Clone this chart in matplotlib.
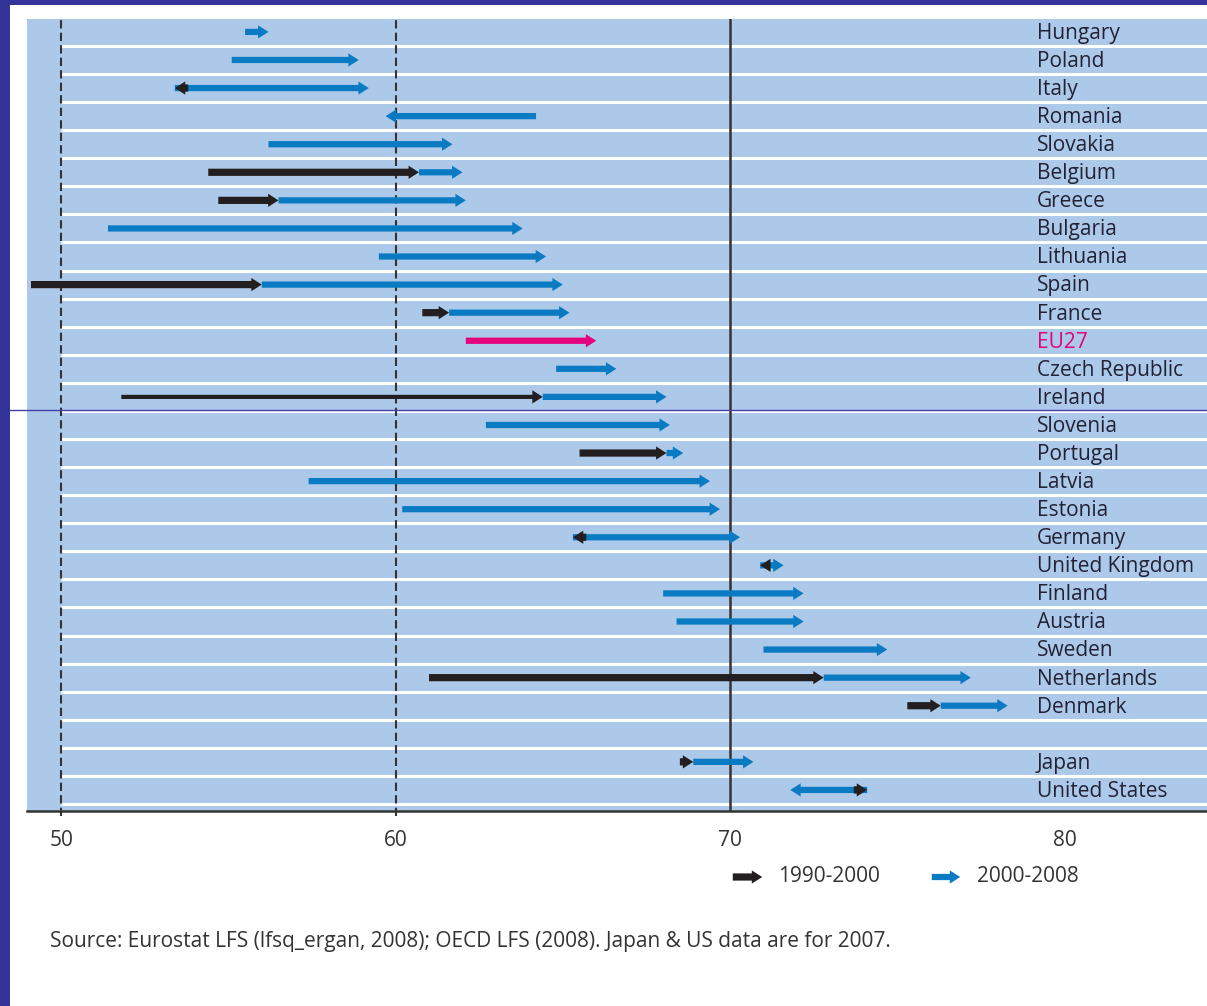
import numpy as np
import matplotlib.pyplot as plt
from matplotlib.lines import Line2D

nan = np.nan
countries = ['Hungary', 'Poland', 'Italy', 'Romania', 'Slovakia', 'Belgium', 'Greece',
             'Bulgaria', 'Lithuania', 'Spain', 'France', 'EU27', 'Czech Republic', 'Ireland',
             'Slovenia', 'Portugal', 'Latvia', 'Estonia', 'Germany', 'United Kingdom',
             'Finland', 'Austria', 'Sweden', 'Netherlands', 'Denmark', '', 'Japan',
             'United States']
# employment rates (%)
v1990 = [nan, nan, 53.8, nan, nan, 54.4, 54.7, nan, nan, 49.1, 60.8, nan, nan, 51.8,
         nan, 65.5, nan, nan, 65.7, 71.2, nan, nan, nan, 61.0, 75.3, nan, 68.5, 73.7]
v2000 = [55.5, 55.1, 53.4, 64.2, 56.2, 60.7, 56.5, 51.4, 59.5, 56.0, 61.6, 62.1, 64.8, 64.4,
         62.7, 68.1, 57.4, 60.2, 65.3, 70.9, 68.0, 68.4, 71.0, 72.8, 76.3, nan, 68.9, 74.1]
v2008 = [56.2, 58.9, 59.2, 59.7, 61.7, 62.0, 62.1, 63.8, 64.5, 65.0, 65.2, 66.0, 66.6, 68.1,
         68.2, 68.6, 69.4, 69.7, 70.3, 71.6, 72.2, 72.2, 74.7, 77.2, 78.3, nan, 70.7, 71.8]
xticks = [50, 60, 70, 80]

BG = '#adc9e9'
BLUE = '#0a7bc3'
BLACK = '#231f20'
PINK = '#e5007d'
PURPLE = '#34339a'
TXT = '#222236'
FS = 15

plt.rcParams['font.family'] = ['Open Sans', 'DejaVu Sans']

fig = plt.figure(figsize=(12.07, 10.06), dpi=100)
W, H = 1207, 1006
ax = fig.add_axes([27 / W, 1 - 811 / H, 1 - 27 / W, (811 - 19) / H])
ax.set_facecolor(BG)
ax.set_xlim(48.98, 84.26)
ax.set_ylim(27.75, -0.46)

y = np.arange(len(countries))

# white row separators (start at the 50 line)
for yy in y:
    ax.hlines(yy + 0.5, 50, 84.26, color='white', lw=2.2, zorder=1)

ax.axvline(50, color='#333333', lw=1.5, ls=(0, (4, 2)), ymin=-0.006, clip_on=False, zorder=2)
ax.axvline(60, color='#333333', lw=1.5, ls=(0, (4, 2)), ymin=-0.006, clip_on=False, zorder=2)
ax.axvline(70, color='#333333', lw=1.8, zorder=2)


def arrow(a, b, yy, color, tw, z):
    ax.annotate('', xy=(b, yy), xytext=(a, yy),
                arrowprops=dict(arrowstyle=f'simple,head_length=0.75,head_width=0.95,tail_width={tw}',
                                mutation_scale=10, color=color, lw=0, shrinkA=0, shrinkB=0),
                zorder=z)


for i, name in enumerate(countries):
    if name == '':
        continue
    col = PINK if name == 'EU27' else BLUE
    arrow(v2000[i], v2008[i], i, col, 0.45, 3)
    if not np.isnan(v1990[i]):
        tw = 0.3 if name == 'Ireland' else 0.52
        arrow(v1990[i], v2000[i], i, BLACK, tw, 4)
    ax.text(79.18, i + 0.05, name, va='center', ha='left', fontsize=FS,
            color=PINK if name == 'EU27' else TXT)

for s in ['top', 'left', 'right']:
    ax.spines[s].set_visible(False)
ax.spines['bottom'].set_color('#333333')
ax.spines['bottom'].set_linewidth(1.8)
ax.set_yticks([])
ax.set_xticks(xticks)
ax.tick_params(axis='x', length=0, pad=14, labelsize=FS, labelcolor='#333333')

# legend
def fig_arrow(x0, x1, yy, color, tw):
    fig.add_artist(plt.matplotlib.patches.FancyArrowPatch(
        (x0 / W, 1 - yy / H), (x1 / W, 1 - yy / H), transform=fig.transFigure,
        arrowstyle=f'simple,head_length=0.75,head_width=0.95,tail_width={tw}',
        mutation_scale=10, color=color, lw=0))

fig_arrow(730, 765, 877, BLACK, 0.52)
fig.text(778 / W, 1 - 877 / H, '1990-2000', va='center', ha='left', fontsize=FS, color='#333333')
fig_arrow(929, 963, 877, BLUE, 0.45)
fig.text(977 / W, 1 - 877 / H, '2000-2008', va='center', ha='left', fontsize=FS, color='#333333')

fig.text(50 / W, 1 - 942 / H,
         'Source: Eurostat LFS (lfsq_ergan, 2008); OECD LFS (2008). Japan & US data are for 2007.',
         va='center', ha='left', fontsize=FS, color='#333333')

# page frame
fig.add_artist(plt.Rectangle((0, 0), 10 / W, 1, transform=fig.transFigure, color=PURPLE, lw=0))
fig.add_artist(plt.Rectangle((0, 1 - 5 / H), 1, 5 / H, transform=fig.transFigure, color=PURPLE, lw=0))
fig.add_artist(Line2D([10 / W, 1], [1 - 410 / H, 1 - 410 / H], transform=fig.transFigure,
                      color='#4040a8', lw=1))

fig.savefig('out.png', dpi=100)
